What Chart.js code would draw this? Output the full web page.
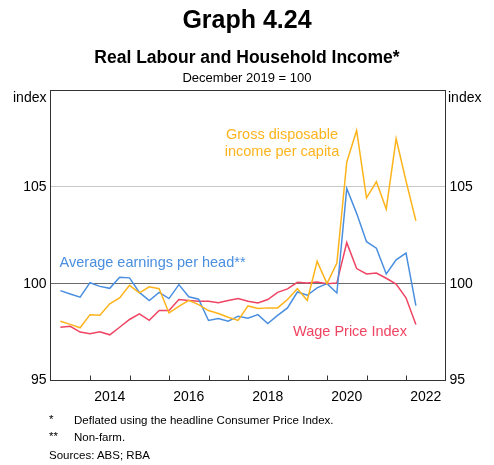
<!DOCTYPE html>
<html>
<head>
<meta charset="utf-8">
<script src="https://cdn.jsdelivr.net/npm/chart.js@4"></script>
<style>
  body { margin: 0; background: #fff; }
  #wrap { position: relative; width: 494px; height: 465px; font-family: Arial, "Liberation Sans", sans-serif; color: #000; }
  #wrap canvas { position: absolute; left: 0; top: 0; }
  .txt { position: absolute; white-space: nowrap; line-height: 1; }
  #title { top: 6.5px; left: 0; width: 494px; text-align: center; font-size: 25px; font-weight: bold; }
  #subtitle { top: 48.5px; left: 0; width: 494px; text-align: center; font-size: 17.5px; font-weight: bold; }
  #base { top: 70.5px; left: 0; width: 494px; text-align: center; font-size: 13px; }
  .unit { top: 90px; font-size: 14px; }
  .note { font-size: 11.5px; }
</style>
</head>
<body>
<div id="wrap">
  <canvas id="chart" width="494" height="465"></canvas>
  <div class="txt" id="title">Graph 4.24</div>
  <div class="txt" id="subtitle">Real Labour and Household Income*</div>
  <div class="txt" id="base">December 2019 = 100</div>
  <div class="txt unit" style="left:13px">index</div>
  <div class="txt unit" style="left:448px">index</div>
  <div class="txt note" style="left:49px; top:413.5px">*</div>
  <div class="txt note" style="left:74px; top:414.5px">Deflated using the headline Consumer Price Index.</div>
  <div class="txt note" style="left:49px; top:431px">**</div>
  <div class="txt note" style="left:74px; top:432px">Non-farm.</div>
  <div class="txt note" style="left:49px; top:449.5px">Sources: ABS; RBA</div>
</div>
<script>
// quarter ends, Mar 2013 to Mar 2022
const quarters = [
  '2013-03', '2013-06', '2013-09', '2013-12',
  '2014-03', '2014-06', '2014-09', '2014-12',
  '2015-03', '2015-06', '2015-09', '2015-12',
  '2016-03', '2016-06', '2016-09', '2016-12',
  '2017-03', '2017-06', '2017-09', '2017-12',
  '2018-03', '2018-06', '2018-09', '2018-12',
  '2019-03', '2019-06', '2019-09', '2019-12',
  '2020-03', '2020-06', '2020-09', '2020-12',
  '2021-03', '2021-06', '2021-09', '2021-12',
  '2022-03'
]

const earnings = [
  99.64, 99.47, 99.3, 100.05, 99.86, 99.76, 100.33, 100.3, 99.55, 99.13,
  99.55, 99.23, 99.95, 99.32, 99.2, 98.1, 98.2, 98.06, 98.32, 98.22,
  98.4, 97.94, 98.36, 98.75, 99.57, 99.4, 99.78, 100, 99.52, 104.92,
  103.63, 102.17, 101.83, 100.5, 101.23, 101.58, 98.87
]

const income = [
  98.06, 97.9, 97.72, 98.4, 98.37, 98.96, 99.26, 99.91, 99.52, 99.84,
  99.74, 98.49, 98.83, 99.14, 98.92, 98.61, 98.46, 98.27, 98.1, 98.85,
  98.72, 98.75, 98.75, 99.18, 99.74, 99.13, 101.15, 100, 101.06, 106.28,
  107.91, 104.43, 105.26, 103.85, 107.49, 105.3, 103.25
]

const wpi = [
  97.75, 97.8, 97.5, 97.41, 97.52, 97.36, 97.75, 98.15, 98.44, 98.11,
  98.61, 98.61, 99.18, 99.13, 99.09, 99.09, 99.02, 99.13, 99.23, 99.09,
  99.0, 99.18, 99.55, 99.73, 100.07, 100.04, 100.09, 100, 100.04, 102.12,
  100.78, 100.5, 100.55, 100.28, 99.98, 99.27, 97.89
]

const yearLabels = ['2014', '2016', '2018', '2020', '2022']
const yearTicks = [2014, 2015, 2016, 2017, 2018, 2019, 2020, 2021, 2022]

const FONT = 'Arial, "Liberation Sans", sans-serif'
const BLUE = '#4a8fdf'
const GOLD = '#fdb41c'
const RED = '#ef4462'

// quarter end -> decimal year (Dec 2019 sits on the 2020 boundary)
const toYear = (q) => {
  const [yy, mm] = q.split('-').map(Number)
  return yy + mm / 12
}

const points = (values) => quarters.map((q, i) => ({ x: toYear(q), y: values[i] }))

// inward tick marks on the bottom axis
const yearMarks = {
  id: 'yearMarks',
  afterDraw(chart) {
    const { ctx, chartArea, scales: { x } } = chart
    ctx.save()
    ctx.strokeStyle = '#333'
    ctx.lineWidth = 1
    ctx.beginPath()
    for (let yr of yearTicks) {
      const px = Math.round(x.getPixelForValue(yr)) + 0.5
      ctx.moveTo(px, chartArea.bottom)
      ctx.lineTo(px, chartArea.bottom - 5)
    }
    ctx.stroke()
    ctx.restore()
  }
}

// series names written inside the plot
const seriesLabels = {
  id: 'seriesLabels',
  afterDatasetsDraw(chart) {
    const { ctx, scales: { x, y } } = chart
    const labels = [
      { text: 'Gross disposable', x: 2018.86, y: 107.7, color: GOLD, align: 'center' },
      { text: 'income per capita', x: 2018.86, y: 106.78, color: GOLD, align: 'center' },
      { text: 'Average earnings per head**', x: 2013.23, y: 101.07, color: BLUE, align: 'left' },
      { text: 'Wage Price Index', x: 2019.14, y: 97.48, color: RED, align: 'left' }
    ]
    ctx.save()
    ctx.font = '14.5px ' + FONT
    ctx.textBaseline = 'middle'
    for (let l of labels) {
      ctx.fillStyle = l.color
      ctx.textAlign = l.align
      ctx.fillText(l.text, x.getPixelForValue(l.x), y.getPixelForValue(l.y))
    }
    ctx.restore()
  }
}

const gridColor = (ctx) => {
  const v = ctx.tick.value
  if (v === 100) return '#6b6b6b'
  if (v === 105) return '#c8c8c8'
  if (v === 110) return '#333'
  return 'rgba(0,0,0,0)'
}

const line = (label, values, color) => ({
  label: label,
  data: points(values),
  borderColor: color,
  backgroundColor: color,
  borderWidth: 1.5,
  pointRadius: 0,
  tension: 0,
  fill: false
})

new Chart(document.getElementById('chart').getContext('2d'), {
  type: 'line',
  data: {
    datasets: [
      line('Gross disposable income per capita', income, GOLD),
      line('Average earnings per head', earnings, BLUE),
      line('Wage Price Index', wpi, RED)
    ]
  },
  options: {
    responsive: false,
    animation: false,
    layout: { padding: { top: 90, left: 0, right: 0, bottom: 0 } },
    plugins: { legend: { display: false }, tooltip: { enabled: false } },
    scales: {
      x: {
        type: 'linear',
        position: 'bottom',
        min: 2013,
        max: 2023,
        afterBuildTicks: (scale) => {
          scale.ticks = yearLabels.map((l) => ({ value: Number(l) + 0.5 }))
        },
        afterFit: (scale) => { scale.height = 84.5 },
        ticks: {
          autoSkip: false,
          maxRotation: 0,
          padding: 8,
          color: '#000',
          font: { size: 14, family: FONT },
          callback: (v) => String(Math.floor(v))
        },
        grid: { color: 'rgba(0,0,0,0)', drawOnChartArea: false, drawTicks: false },
        border: { display: true, color: '#333', width: 1 }
      },
      y: {
        position: 'left',
        min: 95,
        max: 110,
        afterFit: (scale) => { scale.width = 50.5 },
        ticks: {
          stepSize: 5,
          padding: 4,
          color: '#000',
          font: { size: 14, family: FONT },
          callback: (v) => (v === 110 ? '' : v)
        },
        grid: { color: gridColor, lineWidth: 1, drawTicks: false },
        border: { display: true, color: '#333', width: 1 }
      },
      y2: {
        position: 'right',
        min: 95,
        max: 110,
        afterFit: (scale) => { scale.width = 48.5 },
        ticks: {
          stepSize: 5,
          padding: 4,
          color: '#000',
          font: { size: 14, family: FONT },
          callback: (v) => (v === 110 ? '' : v)
        },
        grid: { drawOnChartArea: false, drawTicks: false },
        border: { display: true, color: '#333', width: 1 }
      }
    }
  },
  plugins: [yearMarks, seriesLabels]
})
</script>
</body>
</html>
